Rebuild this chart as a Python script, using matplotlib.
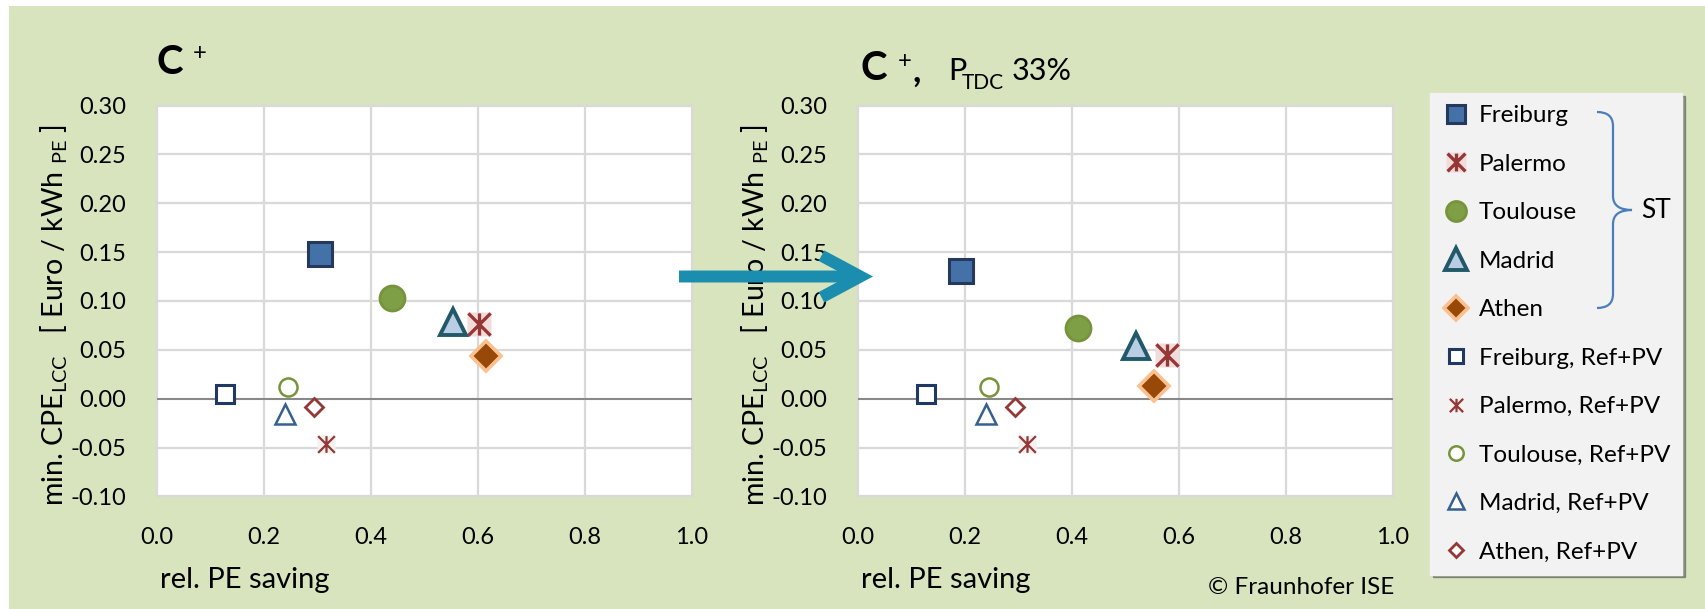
import matplotlib
matplotlib.use("Agg")
import matplotlib.pyplot as plt
from matplotlib.path import Path
from matplotlib.patches import Rectangle, PathPatch, FancyArrowPatch
from matplotlib.legend_handler import HandlerTuple

plt.rcParams["font.family"] = ["Lato", "DejaVu Sans"]
plt.rcParams["mathtext.fontset"] = "custom"
plt.rcParams["mathtext.rm"] = "Lato"
plt.rcParams["mathtext.it"] = "Lato:italic"
plt.rcParams["mathtext.bf"] = "Lato:bold"
plt.rcParams["axes.unicode_minus"] = False

# Daten
staedte = ["Freiburg", "Palermo", "Toulouse", "Madrid", "Athen"]
st_x_links = [0.304, 0.601, 0.440, 0.554, 0.615]
st_y_links = [0.148, 0.076, 0.103, 0.079, 0.044]
st_x_rechts = [0.193, 0.578, 0.411, 0.519, 0.553]
st_y_rechts = [0.131, 0.045, 0.0725, 0.054, 0.013]
ref_x = [0.128, 0.316, 0.244, 0.239, 0.294]
ref_y = [0.005, -0.046, 0.0115, -0.016, -0.008]

xticks = [0.0, 0.2, 0.4, 0.6, 0.8, 1.0]
yticks = [-0.10, -0.05, 0.00, 0.05, 0.10, 0.15, 0.20, 0.25, 0.30]

W, H = 1706, 609
gruen = "#D7E4BD"

stern = Path([(0, -1), (0, 1), (-1, -1), (1, 1), (-1, 1), (1, -1)],
             [Path.MOVETO, Path.LINETO, Path.MOVETO, Path.LINETO, Path.MOVETO, Path.LINETO])

# marker styles: (marker, size, face, edge, edgewidth)
st_stil = {
    "Freiburg": ("s", 17, "#4472A8", "#24395C", 2.2),
    "Palermo": (stern, 16, "none", "#953735", 2.4),
    "Toulouse": ("o", 18, "#7F9F47", "#77933C", 2.0),
    "Madrid": ("^", 19, "#B9CDE5", "#215968", 2.8),
    "Athen": ("D", 15, "#984807", "#FAC090", 2.6),
}
ref_stil = {
    "Freiburg": ("s", 13, "white", "#1F3864", 2.2),
    "Palermo": (stern, 12, "none", "#953735", 1.6),
    "Toulouse": ("o", 13, "white", "#77933C", 1.8),
    "Madrid": ("^", 14, "white", "#376092", 1.8),
    "Athen": ("D", 9.5, "white", "#953735", 2.0),
}


def px(x, y):
    return x / W, 1 - y / H


fig = plt.figure(figsize=(W / 100, H / 100), dpi=100, facecolor="white")
fig.patches.append(Rectangle(px(9, H), 1, 1 - 6 / H, transform=fig.transFigure,
                             facecolor=gruen, edgecolor="none", zorder=-10))

ax1 = fig.add_axes([157 / W, 1 - 496.4 / H, 535 / W, 390.8 / H])
ax2 = fig.add_axes([858 / W, 1 - 496.4 / H, 535 / W, 390.8 / H])


def zeichne(ax, xs, ys):
    handles = []
    for stil, xx, yy, bg in [(st_stil, xs, ys, "#F2DCDB"), (ref_stil, ref_x, ref_y, "#F2F2F2")]:
        for i, stadt in enumerate(staedte):
            m, ms, fc, ec, ew = stil[stadt]
            if stadt == "Palermo":
                h0, = ax.plot(xx[i], yy[i], "s", ms=ms * 1.1, color=bg, mec="none", zorder=3)
                h1, = ax.plot(xx[i], yy[i], marker=m, ms=ms, mfc="none", mec=ec, mew=ew,
                              ls="none", zorder=4)
                handles.append((h0, h1))
            else:
                h, = ax.plot(xx[i], yy[i], marker=m, ms=ms, mfc=fc, mec=ec, mew=ew,
                             ls="none", zorder=4)
                handles.append(h)
    ax.set_xlim(0, 1)
    ax.set_ylim(-0.10, 0.30)
    ax.set_xticks(xticks)
    ax.set_yticks(yticks)
    ax.set_xticklabels(["%.1f" % v for v in xticks])
    ax.set_yticklabels(["%.2f" % v for v in yticks])
    ax.tick_params(length=0, labelsize=17)
    ax.tick_params(axis="x", pad=22)
    ax.tick_params(axis="y", pad=22)
    ax.grid(True, color="#D9D9D9", lw=1.6)
    for g in ax.get_xgridlines() + ax.get_ygridlines():
        g.set_clip_on(False)
    ax.axhline(0, color="#868686", lw=1.4, zorder=2)
    for s in ax.spines.values():
        s.set_visible(False)
    ax.set_axisbelow(True)
    ax.set_ylabel(r"min. CPE$_\mathrm{LCC}$   [ Euro / kWh $_\mathrm{PE}$ ]", fontsize=20.5,
                  va="center")
    ax.yaxis.set_label_coords((54 - 157) / 535, 0.4655)
    ax.set_xlabel("rel. PE saving", fontsize=21, loc="left", va="center")
    ax.xaxis.set_label_coords(0.005, -0.214)
    return handles


handles = zeichne(ax1, st_x_links, st_y_links)
zeichne(ax2, st_x_rechts, st_y_rechts)

# Titel
fig.text(*px(157, 62), "C", fontsize=29, fontweight="bold", va="center", ha="left")
fig.text(*px(193, 53.5), "+", fontsize=17, va="center", ha="left")
fig.text(*px(861, 68.5), "C", fontsize=29, fontweight="bold", va="center", ha="left")
fig.text(*px(898, 61), "+", fontsize=17, va="center", ha="left")
fig.text(*px(913, 82), ",", fontsize=26, fontweight="bold", va="baseline", ha="left")
fig.text(*px(948, 71), "P", fontsize=22, va="center", ha="left")
fig.text(*px(962, 83), "TDC", fontsize=15, va="center", ha="left")
fig.text(*px(1012, 71), "33%", fontsize=22, va="center", ha="left")

fig.text(*px(1208, 588), "© Fraunhofer ISE", fontsize=17.5, va="center", ha="left")

# Pfeil
pfeil = FancyArrowPatch(px(679, 276.5), px(873, 276.5), transform=fig.transFigure,
                        arrowstyle="->,head_length=2.8,head_width=1.5", mutation_scale=10,
                        shrinkA=0, shrinkB=0, lw=8.6, color="#1B8DAE", zorder=20,
                        capstyle="butt", joinstyle="miter")
fig.patches.append(pfeil)

# Legende
leg = fig.legend(handles, staedte + [s + ", Ref+PV" for s in staedte],
                 loc="upper left", bbox_to_anchor=px(1430, 93), borderaxespad=0,
                 fontsize=17.5, markerscale=0.8, handlelength=1.1, handletextpad=0.4,
                 labelspacing=1.13, borderpad=0.5, frameon=True, shadow=True,
                 fancybox=False, facecolor="#F2F2F2", edgecolor="#F2F2F2", framealpha=1,
                 handler_map={tuple: HandlerTuple(ndivide=1)})

# Klammer fuer ST
xa, xb, xc = 1597, 1613, 1632
ya, ym, yb = 112, 210, 308
klammer = Path([px(xa, ya), px(xb, ya), px(xb, ya + 14), px(xb, ym - 14), px(xb, ym), px(xc, ym),
                px(xb, ym), px(xb, ym + 14), px(xb, yb - 14), px(xb, yb), px(xa, yb)],
               [Path.MOVETO, Path.CURVE3, Path.CURVE3, Path.LINETO, Path.CURVE3, Path.CURVE3,
                Path.CURVE3, Path.CURVE3, Path.LINETO, Path.CURVE3, Path.CURVE3])
fig.patches.append(PathPatch(klammer, transform=fig.transFigure, fill=False,
                             edgecolor="#4A7EBB", lw=1.6, zorder=30))
fig.text(*px(1641, 210), "ST", fontsize=19, va="center", ha="left", zorder=30)

fig.savefig("out.png", dpi=100, facecolor=fig.get_facecolor())
